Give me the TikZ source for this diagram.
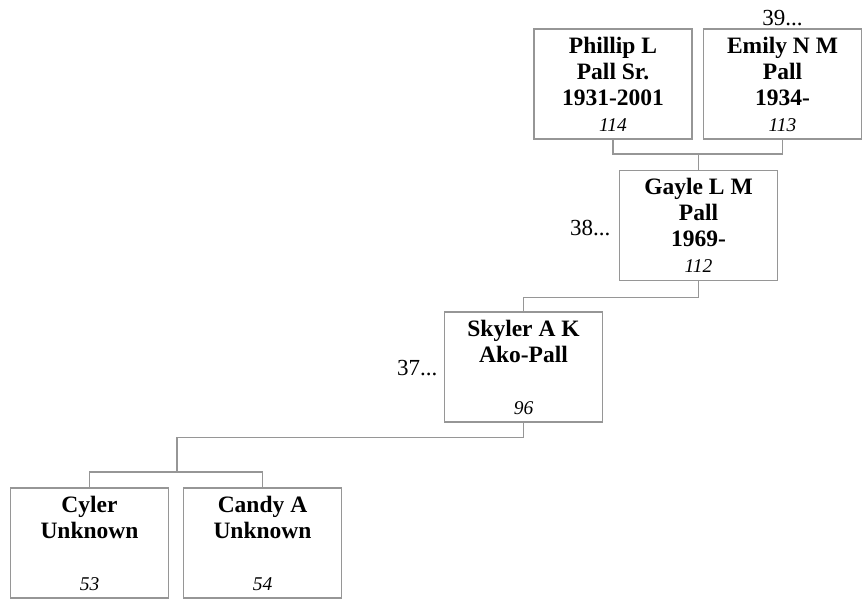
\documentclass[tikz,border=0pt]{standalone}
\usepackage{fontspec}
\setmainfont{Liberation Serif}
\definecolor{linegray}{RGB}{150,150,150}
\newcommand\refno[1]{{\fontsize{19.5}{26}\selectfont\normalfont\itshape #1}}
\tikzset{
  person/.style={draw=linegray,line width=1.3pt,minimum width=158pt,minimum height=110pt,
    inner sep=0pt,align=center,font=\fontsize{23.5}{26}\selectfont\bfseries},
  gen/.style={font=\fontsize{23}{26}\selectfont},
  link/.style={draw=linegray,line width=1.3pt}
}
\begin{document}
\begin{tikzpicture}[x=1pt,y=-1pt]
	  \useasboundingbox (0,0) rectangle (866,599);
	  \node (P) [person] at (613,84) {Phillip L\\Pall Sr.\\1931-2001\\\refno{114}};
	  \node (E) [person] at (782.5,84) {Emily N M\\Pall\\1934-\\\refno{113}};
	  \node (G) [person] at (698.5,225.5) {Gayle L M\\Pall\\1969-\\\refno{112}};
	  \node (S) [person] at (523.5,367) {Skyler A K\\Ako-Pall\\\mbox{}\\\refno{96}};
	  \node (C) [person] at (89.5,543) {Cyler\\Unknown\\\mbox{}\\\refno{53}};
	  \node (D) [person] at (262.5,543) {Candy A\\Unknown\\\mbox{}\\\refno{54}};
	  \node (g39) [gen] at (782.5,18) {39...};
	  \node (g38) [gen,anchor=east] at (614,228) {38...};
	  \node (g37) [gen,anchor=east] at (441,368) {37...};
	  \coordinate (pe) at (698.5,154);
	  \coordinate (kids) at (177,472);
	  \draw [link] (P.south) |- (pe) -| (E.south);
	  \draw [link] (pe) -- (G.north);
	  \draw [link] (G.south) -- ++(0,16) -| (S.north);
	  \draw [link] (S.south) -- ++(0,15) -| (kids);
	  \draw [link] (C.north) |- (kids) -| (D.north);
	\end{tikzpicture}
\end{document}
